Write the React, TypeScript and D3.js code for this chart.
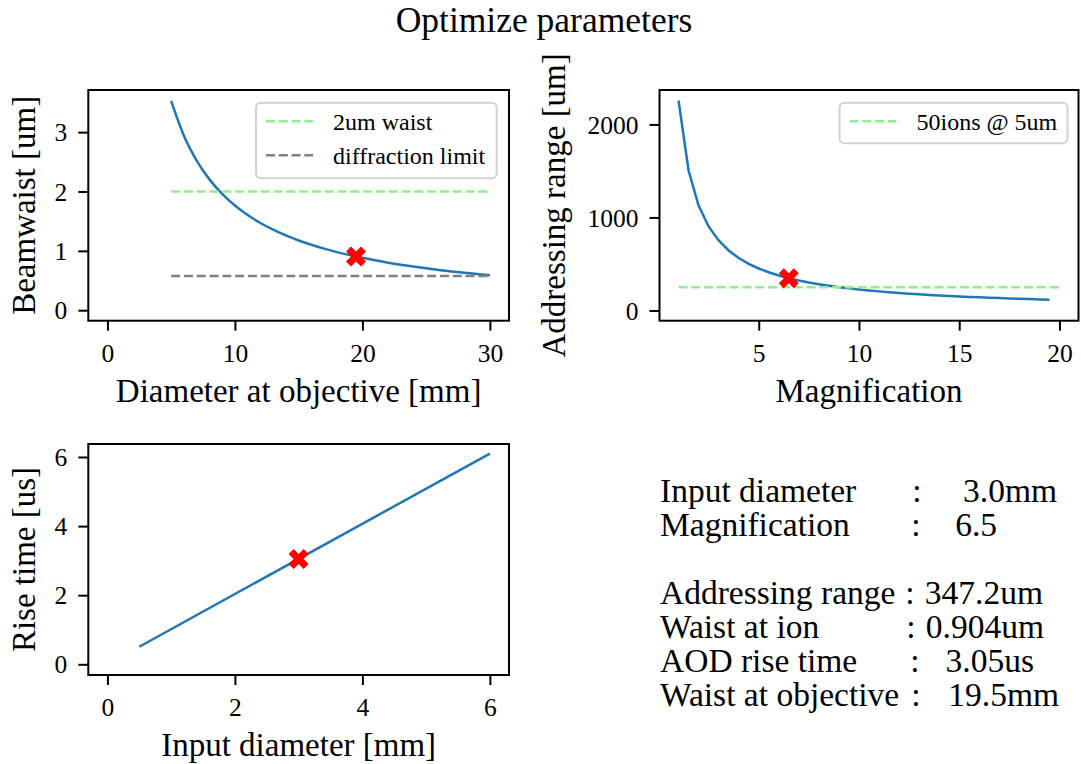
import React, { useEffect, useRef } from "react";
import * as d3 from "d3";

// ---------- data ----------
const waistDiam = [5, 6, 7, 8, 9, 10, 11, 12, 13, 14, 15, 16, 17, 18, 19, 20, 21, 22, 23, 24, 25, 26, 27, 28, 29, 30];
const waistVals = [3.526, 2.938, 2.519, 2.204, 1.959, 1.763, 1.603, 1.469, 1.356, 1.259, 1.175, 1.102, 1.037, 0.979, 0.928, 0.882, 0.840, 0.801, 0.767, 0.735, 0.705, 0.678, 0.653, 0.630, 0.608, 0.588];
const waistTarget = 2.0;
const diffractionLimit = 0.577;
const waistSpan = [5, 30];
const waistPoint = [19.5, 0.904];

const magValues = [1, 1.5, 2, 2.5, 3, 3.5, 4, 4.5, 5, 5.5, 6, 6.5, 7, 7.5, 8, 8.5, 9, 9.5, 10, 10.5, 11, 11.5, 12, 12.5, 13, 13.5, 14, 14.5, 15, 15.5, 16, 16.5, 17, 17.5, 18, 18.5, 19, 19.5];
const rangeVals = [2257, 1504.7, 1128.5, 902.8, 752.3, 644.9, 564.3, 501.6, 451.4, 410.4, 376.2, 347.2, 322.4, 300.9, 282.1, 265.5, 250.8, 237.6, 225.7, 215.0, 205.2, 196.3, 188.1, 180.6, 173.6, 167.2, 161.2, 155.7, 150.5, 145.6, 141.1, 136.8, 132.8, 129.0, 125.4, 122.0, 118.8, 115.7];
const ionsTarget = 250;
const ionsSpan = [1, 20];
const rangePoint = [6.5, 347.2];

const inputDiam = [0.5, 6];
const riseVals = [0.508, 6.1];
const risePoint = [3.0, 3.05];

const xTicks1 = [0, 10, 20, 30];
const yTicks1 = [0, 1, 2, 3];
const xTicks2 = [5, 10, 15, 20];
const yTicks2 = [0, 1000, 2000];
const xTicks3 = [0, 2, 4, 6];
const yTicks3 = [0, 2, 4, 6];

const infoLabels = ["Input diameter", "Magnification", "Addressing range", "Waist at ion", "AOD rise time", "Waist at objective"];
const infoValues = ["3.0mm", "6.5", "347.2um", "0.904um", "3.05us", "19.5mm"];

const FONT = "'Liberation Serif', 'Times New Roman', Times, serif";
const BLUE = "#1f77b4";
const GREEN = "#90ee90";
const GRAY = "#808080";

export default function App() {
  const ref = useRef<SVGSVGElement | null>(null);

  useEffect(() => {
    const svg = d3.select(ref.current);
    svg.selectAll("*").remove();
    svg.attr("font-family", FONT);

    svg.append("text").attr("x", 544).attr("y", 32).attr("text-anchor", "middle")
      .attr("font-size", 35.5).text("Optimize parameters");

    const marker = d3.symbol().type(d3.symbolCross).size(250)();

    function panel(opts: any) {
      const { left, right, top, bottom, xd, yd, xt, yt, xl, yl, ylx } = opts;
      const x = d3.scaleLinear().domain(xd).range([left, right]);
      const y = d3.scaleLinear().domain(yd).range([bottom, top]);
      const g = svg.append("g");
      const xa = g.append("g").attr("transform", `translate(0,${bottom})`)
        .call(d3.axisBottom(x).tickValues(xt).tickSize(10).tickPadding(13).tickFormat(d3.format("d")));
      const ya = g.append("g").attr("transform", `translate(${left},0)`)
        .call(d3.axisLeft(y).tickValues(yt).tickSize(10).tickPadding(11).tickFormat(d3.format("d")));
      [xa, ya].forEach((a) => {
        a.select(".domain").remove();
        a.selectAll("line").attr("stroke", "#000").attr("stroke-width", 2);
        a.selectAll("text").attr("font-size", 25.5).attr("font-family", FONT).attr("fill", "#000");
      });
      ya.selectAll("text").attr("dy", "0.34em");
      g.append("text").attr("x", (left + right) / 2).attr("y", bottom + 81)
        .attr("text-anchor", "middle").attr("font-size", 33).text(xl);
      g.append("text").attr("transform", `translate(${ylx},${(top + bottom) / 2}) rotate(-90)`)
        .attr("text-anchor", "middle").attr("font-size", 33).text(yl);
      const plot = g.append("g");
      return { x, y, g, plot, left, right, top, bottom };
    }

    function frame(p: any) {
      p.g.append("rect").attr("x", p.left).attr("y", p.top).attr("width", p.right - p.left)
        .attr("height", p.bottom - p.top).attr("fill", "none").attr("stroke", "#000").attr("stroke-width", 2);
    }

    function hline(p: any, span: number[], v: number, color: string) {
      p.plot.append("line").attr("x1", p.x(span[0])).attr("x2", p.x(span[1]))
        .attr("y1", p.y(v)).attr("y2", p.y(v)).attr("stroke", color).attr("stroke-width", 2.4)
        .attr("stroke-dasharray", "9,3.8");
    }

    function curve(p: any, xs: number[], ys: number[], smooth: boolean) {
      const line = d3.line<number>().x((_, i) => p.x(xs[i])).y((d) => p.y(d));
      if (smooth) line.curve(d3.curveMonotoneX);
      p.plot.append("path").attr("d", line(ys)).attr("fill", "none").attr("stroke", BLUE).attr("stroke-width", 2.5);
    }

    function point(p: any, pt: number[]) {
      p.plot.append("path").attr("d", marker)
        .attr("transform", `translate(${p.x(pt[0])},${p.y(pt[1])}) rotate(45)`).attr("fill", "#ff0000");
    }

    function legend(p: any, x0: number, x1: number, y0: number, y1: number, items: any[]) {
      const lg = p.g.append("g");
      lg.append("rect").attr("x", x0).attr("y", y0).attr("width", x1 - x0).attr("height", y1 - y0)
        .attr("rx", 5).attr("fill", "#fff").attr("fill-opacity", 0.8).attr("stroke", "#d2d2d2").attr("stroke-width", 2);
      items.forEach((it, i) => {
        const yy = y0 + 18.5 + i * 34;
        lg.append("line").attr("x1", x0 + 10).attr("x2", x0 + 57).attr("y1", yy).attr("y2", yy)
          .attr("stroke", it.color).attr("stroke-width", 2.4).attr("stroke-dasharray", "9,3.8");
        lg.append("text").attr("x", x0 + it.tx).attr("y", yy + 8.3).attr("font-size", 24).text(it.label);
      });
    }

    // Panel 1
    const p1 = panel({ left: 88.3, right: 509, top: 90, bottom: 320.7, xd: [-1.5, 31.5], yd: [-0.177, 3.71],
      xt: xTicks1, yt: yTicks1, xl: "Diameter at objective [mm]", yl: "Beamwaist [um]", ylx: 35 });
    curve(p1, waistDiam, waistVals, true);
    hline(p1, waistSpan, waistTarget, GREEN);
    hline(p1, waistSpan, diffractionLimit, GRAY);
    point(p1, waistPoint);
    frame(p1);
    legend(p1, 256, 496.7, 102.7, 178.3, [
      { label: "2um waist", color: GREEN, tx: 77 },
      { label: "diffraction limit", color: GRAY, tx: 77 },
    ]);

    // Panel 2
    const p2 = panel({ left: 659.5, right: 1078.5, top: 90, bottom: 320.7, xd: [0.05, 20.95], yd: [-110, 2370],
      xt: xTicks2, yt: yTicks2, xl: "Magnification", yl: "Addressing range [um]", ylx: 565 });
    curve(p2, magValues, rangeVals, false);
    hline(p2, ionsSpan, ionsTarget, GREEN);
    point(p2, rangePoint);
    frame(p2);
    legend(p2, 839.5, 1067.5, 102.7, 143.3, [{ label: "50ions @ 5um", color: GREEN, tx: 77 }]);

    // Panel 3
    const p3 = panel({ left: 88.3, right: 509, top: 444, bottom: 675, xd: [-0.3, 6.3], yd: [-0.31, 6.376],
      xt: xTicks3, yt: yTicks3, xl: "Input diameter [mm]", yl: "Rise time [us]", ylx: 35 });
    curve(p3, inputDiam, riseVals, false);
    point(p3, risePoint);
    frame(p3);

    // Info text
    const baselines = [502, 536, 604, 638, 672, 706];
    const colonX = [917, 916, 910, 911, 915, 916];
    const valueEnd = [1057, 997, 1043, 1044, 1034, 1059];
    const info = svg.append("g").attr("font-size", 33.5);
    infoLabels.forEach((lab, i) => {
      info.append("text").attr("x", 660).attr("y", baselines[i]).text(lab);
      info.append("text").attr("x", colonX[i]).attr("y", baselines[i]).attr("text-anchor", "middle").text(":");
      info.append("text").attr("x", valueEnd[i]).attr("y", baselines[i]).attr("text-anchor", "end").text(infoValues[i]);
    });
  }, []);

  return (
    <svg ref={ref} width={1081} height={764}
      style={{ position: "absolute", left: 0, top: 0, background: "#fff" }} />
  );
}
